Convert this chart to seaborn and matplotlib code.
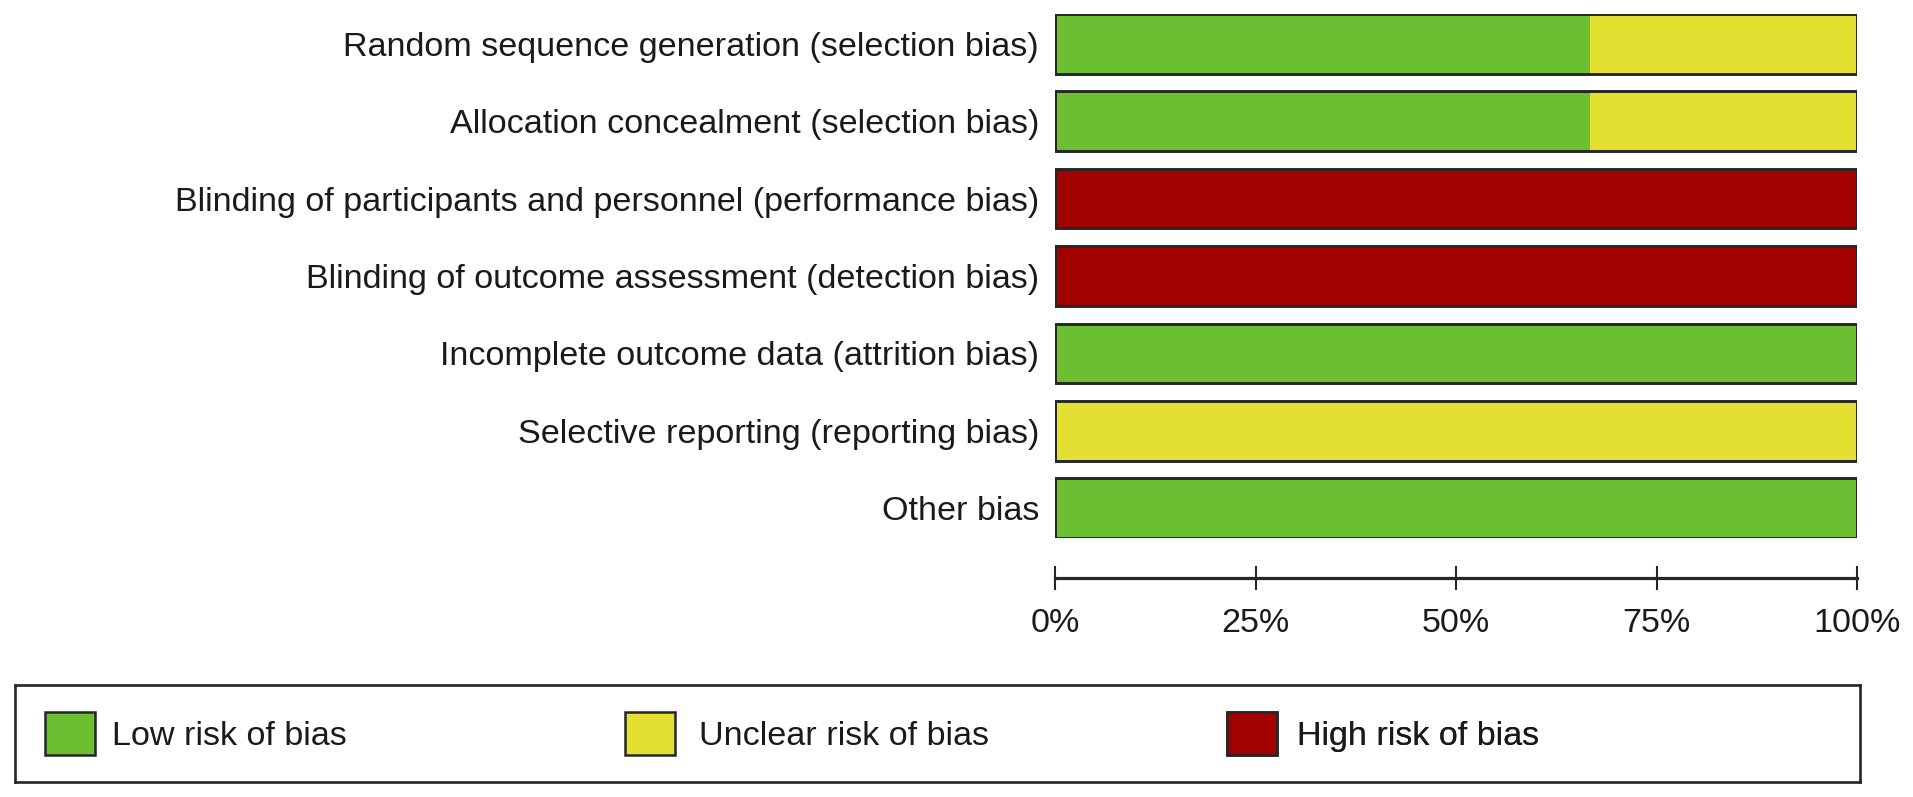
import numpy as np
import pandas as pd
import matplotlib
matplotlib.use("Agg")
import matplotlib.pyplot as plt
import seaborn as sns
from matplotlib.patches import Patch

# risk of bias summary, percent of included studies per domain
domains = [
    "Random sequence generation (selection bias)",
    "Allocation concealment (selection bias)",
    "Blinding of participants and personnel (performance bias)",
    "Blinding of outcome assessment (detection bias)",
    "Incomplete outcome data (attrition bias)",
    "Selective reporting (reporting bias)",
    "Other bias",
]
low_risk = [66.7, 66.7, 0, 0, 100, 0, 100]
unclear_risk = [33.3, 33.3, 0, 0, 0, 100, 0]
high_risk = [0, 0, 100, 100, 0, 0, 0]

risk_labels = ["Low risk of bias", "Unclear risk of bias", "High risk of bias"]
risk_colors = ["#6bbf30", "#e3e032", "#a30000"]
tick_values = [0, 25, 50, 75, 100]
tick_labels = ["0%", "25%", "50%", "75%", "100%"]

df = pd.DataFrame({
    "domain": domains,
    "low": low_risk,
    "unclear": unclear_risk,
    "high": high_risk,
})
df["cum_unclear"] = df["low"] + df["unclear"]
df["cum_high"] = df["cum_unclear"] + df["high"]

sns.set_theme(style="white")
plt.rcParams["font.family"] = ["Liberation Sans", "DejaVu Sans"]
FS = 24.6
EDGE = "#262626"

W, H = 1913, 797
fig = plt.figure(figsize=(W / 100, H / 100), dpi=100)
ax = fig.add_axes([1055 / W, 1 - 538 / H, (1857 - 1055) / W, (538 - 14) / H])

bar_h = 0.77
# stack back to front: high (full), unclear, low
sns.barplot(data=df, y="domain", x="cum_high", color=risk_colors[2], orient="h",
            width=bar_h, linewidth=0, saturation=1, ax=ax)
sns.barplot(data=df, y="domain", x="cum_unclear", color=risk_colors[1], orient="h",
            width=bar_h, linewidth=0, saturation=1, ax=ax)
sns.barplot(data=df, y="domain", x="low", color=risk_colors[0], orient="h",
            width=bar_h, linewidth=0, saturation=1, ax=ax)
# outline of each bar
sns.barplot(data=df, y="domain", x="cum_high", orient="h", fill=False,
            width=bar_h, edgecolor=EDGE, linewidth=2.1, ax=ax)

ax.set_xlim(0, 100)
ax.set_ylim(len(domains) - 1 + bar_h / 2, -bar_h / 2)
ax.set_xlabel("")
ax.set_ylabel("")

for s in ["top", "right", "left"]:
    ax.spines[s].set_visible(False)
ax.spines["bottom"].set_position(("outward", 29))
ax.spines["bottom"].set_linewidth(2.3)
ax.spines["bottom"].set_color(EDGE)

ax.set_xticks(tick_values)
ax.set_xticklabels(tick_labels, fontsize=FS)
ax.tick_params(axis="x", direction="inout", length=17, width=1.5,
               color=EDGE, pad=13, bottom=True, labelcolor="#1a1a1a")
ax.tick_params(axis="y", length=0, pad=11.5, labelsize=FS, labelcolor="#1a1a1a")

# legend box along the bottom
lax_left, lax_right = 15, 1860
lax = fig.add_axes([lax_left / W, 1 - 782 / H, (lax_right - lax_left) / W, (782 - 685) / H])
lax.set_xticks([])
lax.set_yticks([])
lax.set_facecolor("white")
for s in lax.spines.values():
    s.set_visible(True)
    s.set_color(EDGE)
    s.set_linewidth(1.9)

# one legend entry per column, placed where the reference has them
entry_x = [45, 625, 1227]
entry_pad = [0.5, 0.72, 0.58]
for x0, pad, color, label in zip(entry_x, entry_pad, risk_colors, risk_labels):
    h = Patch(facecolor=color, edgecolor=EDGE, linewidth=1.8)
    leg = lax.legend([h], [label], loc="center left",
                     bbox_to_anchor=((x0 - lax_left) / (lax_right - lax_left), 0.5),
                     fontsize=FS, frameon=False, handlelength=1.46, handleheight=1.55,
                     handletextpad=pad, borderpad=0, borderaxespad=0,
                     labelcolor="#1a1a1a")
    lax.add_artist(leg)

fig.savefig("out.png", dpi=100)
